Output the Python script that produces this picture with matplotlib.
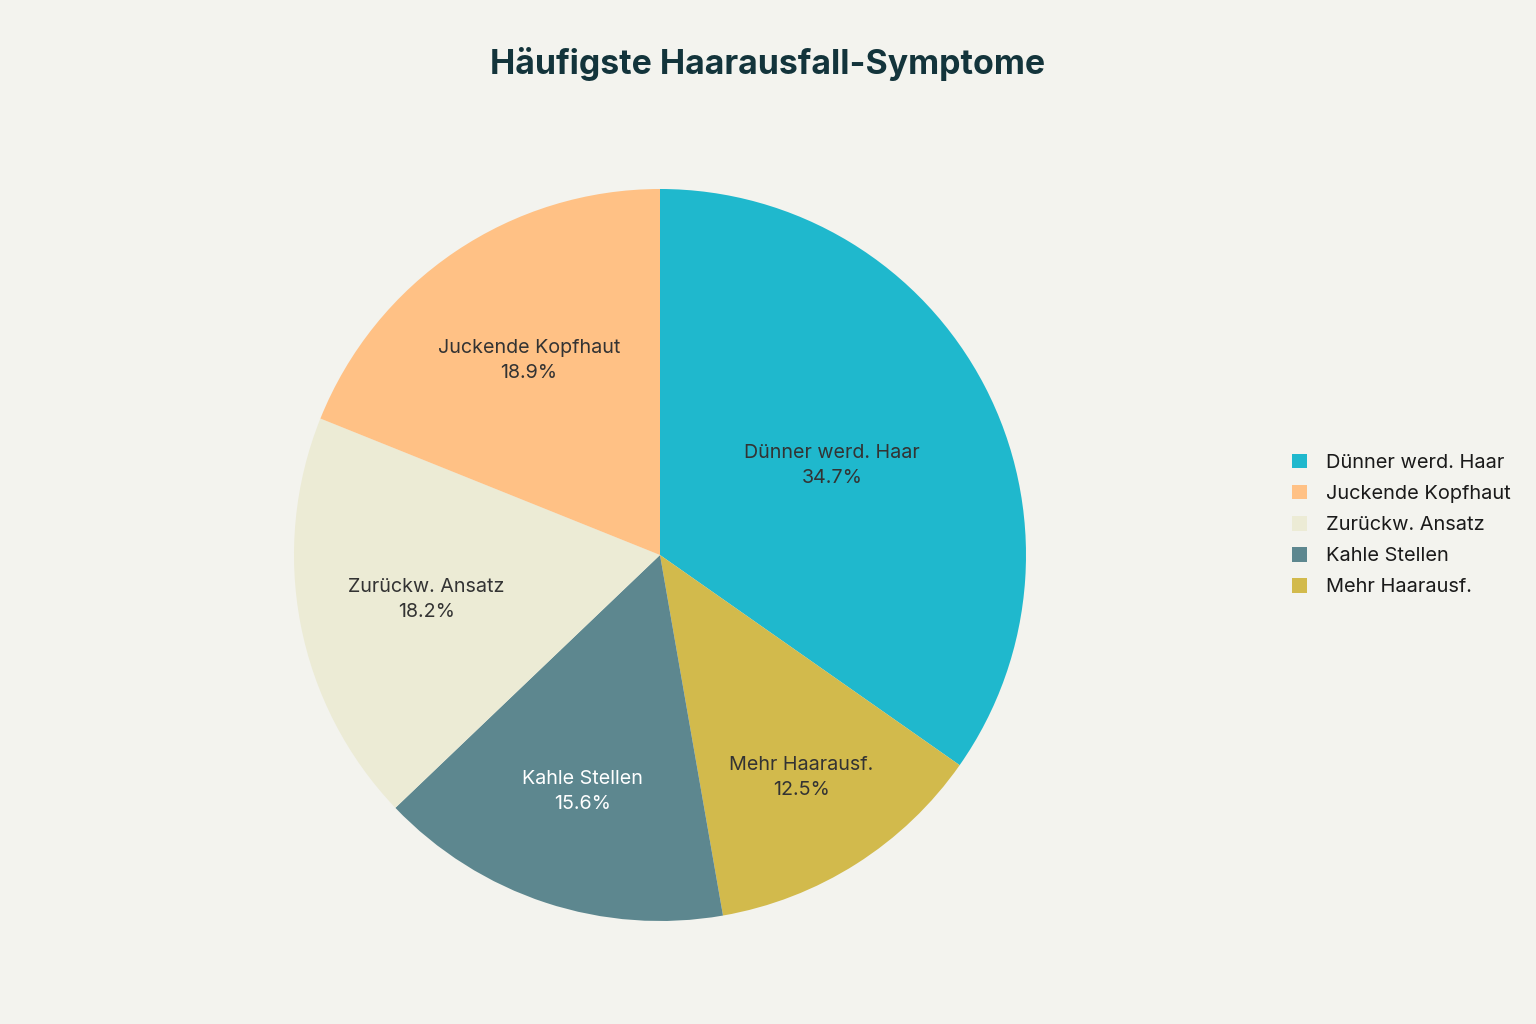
import matplotlib
matplotlib.use("Agg")
import matplotlib.pyplot as plt
from matplotlib.patches import Patch
import numpy as np

plt.rcParams['font.family'] = ['Inter', 'DejaVu Sans']

# data (drawing order: clockwise from top)
categories = ["Dünner werd. Haar", "Mehr Haarausf.", "Kahle Stellen", "Zurückw. Ansatz", "Juckende Kopfhaut"]
values = [34.7, 12.5, 15.6, 18.2, 18.9]
colors = ["#1FB8CD", "#D2BA4C", "#5D878F", "#ECEBD5", "#FFC185"]
label_colors = ["#333333", "#333333", "#FFFFFF", "#333333", "#333333"]
label_radius = [0.53, 0.72, 0.68, 0.65, 0.64]
legend_order = ["Dünner werd. Haar", "Juckende Kopfhaut", "Zurückw. Ansatz", "Kahle Stellen", "Mehr Haarausf."]
title = "Häufigste Haarausfall-Symptome"

bg = "#F3F3EE"
fig = plt.figure(figsize=(15.36, 10.24), dpi=100, facecolor=bg)
ax = fig.add_axes([294/1536, (1024-921)/1024, 732/1536, 732/1024])
ax.set_facecolor(bg)

wedges, _ = ax.pie(values, colors=colors, startangle=90, counterclock=False,
                   radius=1.0, wedgeprops=dict(linewidth=0))
ax.set_xlim(-1, 1)
ax.set_ylim(-1, 1)
ax.set_aspect('equal')
ax.axis('off')

for w, cat, v, c, r in zip(wedges, categories, values, label_colors, label_radius):
    ang = np.deg2rad((w.theta1 + w.theta2) / 2)
    ax.text(r * np.cos(ang), r * np.sin(ang), f"{cat}\n{v:.1f}%", ha='center', va='center',
            fontsize=14.2, color=c, linespacing=1.5)

handles = []
for name in legend_order:
    i = categories.index(name)
    handles.append(Patch(facecolor=colors[i], edgecolor='none', label=name))
leg = fig.legend(handles=handles, loc='center left', bbox_to_anchor=(1274/1536, 1 - 525/1024),
                 frameon=False, fontsize=14.4, handlelength=0.75, handleheight=0.75,
                 handletextpad=0.95, labelspacing=0.64, labelcolor="#1a1a1a")

fig.text(768/1536, 1 - 64/1024, title, ha='center', va='center', fontsize=24.4,
         fontweight='bold', color="#13343B")

fig.savefig("out.png", dpi=100, facecolor=bg)
